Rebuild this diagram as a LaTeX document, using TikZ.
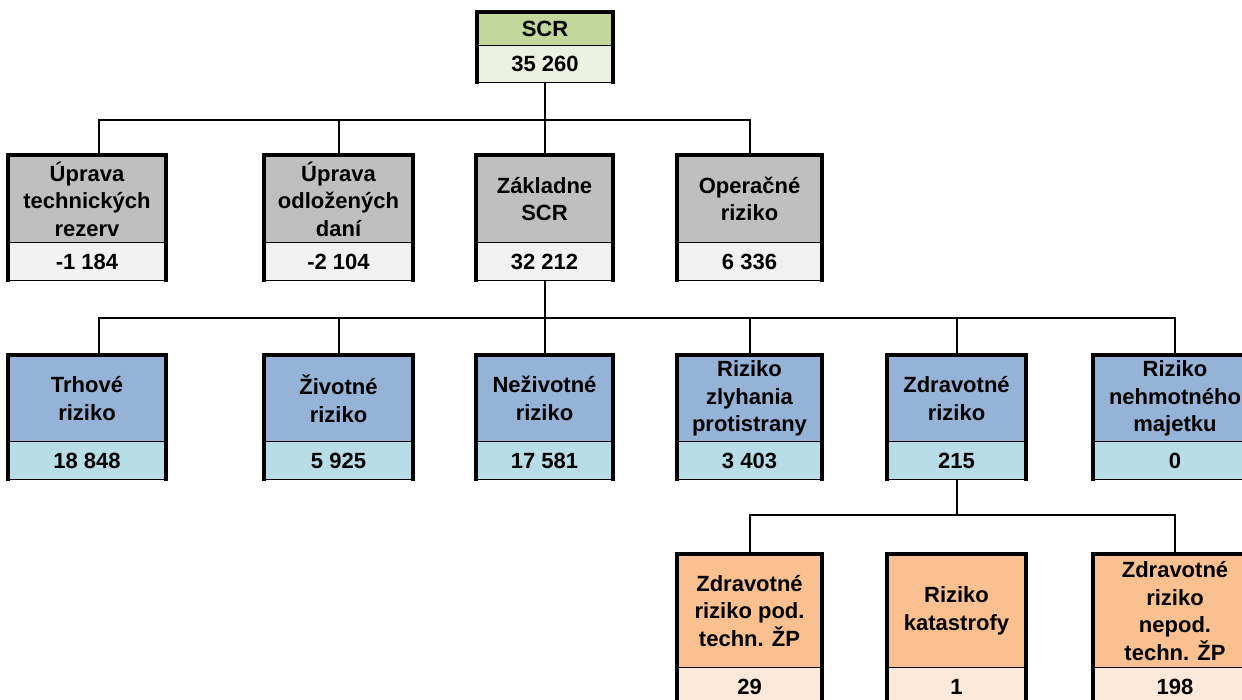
\documentclass[tikz,border=0pt]{standalone}
\usepackage{fontspec}
\setmainfont{Liberation Sans}
\usepackage{tikz}
\definecolor{scrtop}{HTML}{C3D69B}
\definecolor{scrval}{HTML}{EBF1DE}
\definecolor{adjtop}{HTML}{BFBFBF}
\definecolor{adjval}{HTML}{F2F2F2}
\definecolor{modtop}{HTML}{95B3D7}
\definecolor{modval}{HTML}{B7DEE8}
\definecolor{subtop}{HTML}{FAC090}
\definecolor{subval}{HTML}{FDE9D9}
\tikzset{
  cell/.style={inner sep=0pt, outer sep=0pt, align=center,
    font=\fontsize{22}{27.5}\selectfont\bfseries},
  lbl/.style={cell, draw=black, line width=2pt, anchor=north west},
  val/.style={cell, anchor=north},
  rim/.style={line width=3.2pt, line cap=rect},
  conn/.style={line width=2pt}
}
\begin{document}
\begin{tikzpicture}[x=1pt,y=-1pt]
\useasboundingbox (0,0) rectangle (1242,699);
\clip (0,0) rectangle (1242,699);
\fill[white] (0,0) rectangle (1242,699);
%% top
\node[lbl, fill=scrtop, minimum width=136, minimum height=34] (scr) at (477,12) {SCR};
\node[val, fill=scrval, minimum width=136, minimum height=36] (scr-v) at (scr.south) {35 260};
%% first level
\node[lbl, fill=adjtop, minimum width=158, minimum height=88] (utr) at (8,155) {Úprava\\technických\\rezerv};
\node[val, fill=adjval, minimum width=158, minimum height=37] (utr-v) at (utr.south) {-1 184};
\node[lbl, fill=adjtop, minimum width=149, minimum height=88] (uod) at (264,155) {Úprava\\odložených\\daní};
\node[val, fill=adjval, minimum width=149, minimum height=37] (uod-v) at (uod.south) {-2 104};
\node[lbl, fill=adjtop, minimum width=137, minimum height=88] (bscr) at (476,155) {Základne\\SCR};
\node[val, fill=adjval, minimum width=137, minimum height=37] (bscr-v) at (bscr.south) {32 212};
\node[lbl, fill=adjtop, minimum width=145, minimum height=88] (ope) at (677,155) {Operačné\\riziko};
\node[val, fill=adjval, minimum width=145, minimum height=37] (ope-v) at (ope.south) {6 336};
%% modules
\node[lbl, fill=modtop, minimum width=158, minimum height=87] (trh) at (8,355) {Trhové\\riziko};
\node[val, fill=modval, minimum width=158, minimum height=37] (trh-v) at (trh.south) {18 848};
\node[lbl, fill=modtop, minimum width=149, minimum height=87] (ziv) at (264,355) {Životné\\riziko};
\node[val, fill=modval, minimum width=149, minimum height=37] (ziv-v) at (ziv.south) {5 925};
\node[lbl, fill=modtop, minimum width=137, minimum height=87] (nez) at (476,355) {Neživotné\\riziko};
\node[val, fill=modval, minimum width=137, minimum height=37] (nez-v) at (nez.south) {17 581};
\node[lbl, fill=modtop, minimum width=145, minimum height=87] (zly) at (677,355) {Riziko\\zlyhania\\protistrany};
\node[val, fill=modval, minimum width=145, minimum height=37] (zly-v) at (zly.south) {3 403};
\node[lbl, fill=modtop, minimum width=139, minimum height=87] (zdr) at (887,355) {Zdravotné\\riziko};
\node[val, fill=modval, minimum width=139, minimum height=37] (zdr-v) at (zdr.south) {215};
\node[lbl, fill=modtop, minimum width=164, minimum height=87] (neh) at (1093,355) {Riziko\\nehmotného\\majetku};
\node[val, fill=modval, minimum width=164, minimum height=37] (neh-v) at (neh.south) {0};
%% health sub-modules
\node[lbl, fill=subtop, minimum width=145, minimum height=114] (zpod) at (677,554) {Zdravotné\\riziko pod.\\techn. ŽP};
\node[val, fill=subval, minimum width=145, minimum height=37] (zpod-v) at (zpod.south) {29};
\node[lbl, fill=subtop, minimum width=139, minimum height=114] (kat) at (887,554) {Riziko\\katastrofy};
\node[val, fill=subval, minimum width=139, minimum height=37] (kat-v) at (kat.south) {1};
\node[lbl, fill=subtop, minimum width=164, minimum height=114] (znep) at (1093,554) {Zdravotné\\riziko\\nepod.\\techn. ŽP};
\node[val, fill=subval, minimum width=164, minimum height=37] (znep-v) at (znep.south) {198};
%% box rims
\foreach \b in {scr,utr,uod,bscr,ope,trh,ziv,nez,zly,zdr,neh,zpod,kat,znep}{
  \draw[rim] (\b-v.south west) -- (\b.north west) -- (\b.north east) -- (\b-v.south east);
  \draw[thin] (\b-v.south west) -- (\b-v.south east);
}
%% connectors
\coordinate (bus1) at (scr-v.south |- 0,120);
\coordinate (bus2) at (bscr-v.south |- 0,318);
\coordinate (bus3) at (zdr-v.south |- 0,515);
\draw[conn] (scr-v.south) -- (bus1);
\draw[conn] (bus1) -| ([xshift=12pt]utr.north);
\draw[conn] (bus1) -| (uod.north);
\draw[conn] (bus1) -| (bscr.north);
\draw[conn] (bus1) -| (ope.north);
\draw[conn] (bscr-v.south) -- (bus2);
\draw[conn] (bus2) -| ([xshift=12pt]trh.north);
\draw[conn] (bus2) -| (ziv.north);
\draw[conn] (bus2) -| (nez.north);
\draw[conn] (bus2) -| (zly.north);
\draw[conn] (bus2) -| (zdr.north);
\draw[conn] (bus2) -| (neh.north);
\draw[conn] (zdr-v.south) -- (bus3);
\draw[conn] (bus3) -| (zpod.north);
\draw[conn] (bus3) -| (neh.north |- znep.north);
\end{tikzpicture}
\end{document}
